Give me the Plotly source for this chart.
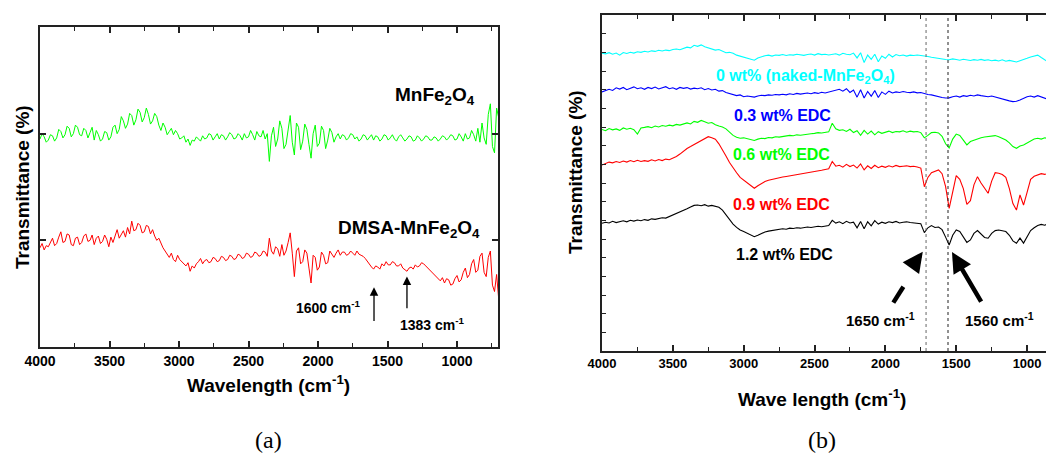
import plotly.graph_objects as go

W, H = 1054, 462          # target picture size (screen pixels)
OFF = 8                   # page body margin that offsets the plot div
FW, FH = W - OFF, H - OFF # figure size so the div exactly fills the window

# ---------------- data: panel (a) ----------------
X_A = list(range(4000, 699, -15))          # wavenumber grid, 4000 -> 700 cm-1
GREEN_A = [
    1.95, 2.00, 1.97, 1.92, 1.94, 1.99, 1.98, 1.93, 1.96, 2.04,
    2.02, 1.96, 1.99, 2.07, 2.05, 1.97, 2.00, 2.08, 2.06, 1.99,
    1.98, 2.05, 2.03, 1.96, 2.01, 2.06, 1.94, 2.03, 1.99, 1.93,
    1.95, 2.02, 2.01, 1.94, 1.97, 2.06, 2.08, 2.00, 2.04, 2.16,
    2.12, 2.05, 2.09, 2.19, 2.17, 2.08, 2.13, 2.23, 2.20, 2.11,
    2.15, 2.24, 2.18, 2.09, 2.12, 2.19, 2.16, 2.08, 2.03, 2.10,
    2.06, 1.99, 2.02, 2.05, 1.99, 2.03, 2.00, 1.95, 1.96, 1.98,
    1.92, 1.95, 1.89, 1.94, 1.93, 1.97, 1.95, 1.93, 1.98, 1.95,
    1.96, 2.00, 1.99, 1.94, 1.97, 2.00, 1.95, 1.99, 1.98, 1.94,
    1.97, 2.01, 1.99, 1.95, 1.96, 2.00, 1.98, 1.94, 2.00, 1.96,
    1.97, 2.03, 1.99, 1.94, 2.02, 1.98, 1.97, 2.03, 1.95, 2.00,
    1.74, 1.98, 2.06, 1.88, 1.95, 2.12, 2.05, 1.86, 1.90, 2.02,
    2.17, 1.92, 1.80, 2.10, 2.06, 1.85, 1.93, 2.09, 2.04, 1.90,
    1.77, 2.00, 2.08, 1.88, 1.91, 2.07, 2.03, 1.86, 1.94, 2.05,
    2.01, 1.92, 1.97, 2.00, 1.95, 1.99, 1.98, 1.94, 1.96, 2.00,
    1.99, 1.95, 1.97, 1.93, 1.95, 1.99, 1.98, 1.94, 1.96, 1.99,
    1.94, 1.98, 1.97, 1.93, 1.95, 1.99, 1.98, 1.94, 1.96, 1.99,
    1.95, 1.93, 1.97, 1.99, 1.96, 1.93, 1.95, 1.98, 1.97, 1.93,
    1.94, 1.98, 1.96, 1.93, 1.95, 1.98, 1.97, 1.94, 1.94, 1.97,
    1.96, 1.93, 1.95, 1.98, 1.97, 1.94, 1.96, 1.99, 1.98, 1.94,
    1.95, 2.00, 1.97, 1.93, 2.00, 1.95, 1.96, 2.03, 1.99, 1.93,
    2.05, 1.92, 2.10, 1.96, 1.90, 2.18, 2.28, 1.88, 1.82, 2.24,
    2.15,
]
RED_A = [
    0.93, 0.97, 0.91, 0.95, 0.94, 0.98, 1.02, 0.95, 0.97, 1.03,
    1.08, 0.98, 0.99, 1.06, 1.05, 0.96, 0.95, 1.02, 1.03, 0.96,
    0.98, 1.04, 1.06, 0.99, 1.00, 1.05, 0.96, 1.02, 1.04, 0.97,
    0.99, 1.05, 1.01, 0.94, 1.03, 0.98, 1.05, 1.10, 1.02, 1.06,
    1.09, 1.03, 1.12, 1.06, 1.18, 1.09, 1.10, 1.16, 1.14, 1.07,
    1.08, 1.14, 1.13, 1.06, 1.10, 1.04, 1.00, 1.02, 0.97, 0.93,
    0.90, 0.87, 0.84, 0.88, 0.82, 0.80, 0.86, 0.82, 0.80, 0.78,
    0.76, 0.79, 0.71, 0.76, 0.74, 0.78, 0.80, 0.83, 0.78, 0.81,
    0.82, 0.79, 0.80, 0.84, 0.83, 0.80, 0.81, 0.85, 0.84, 0.81,
    0.82, 0.86, 0.85, 0.82, 0.83, 0.87, 0.86, 0.83, 0.84, 0.88,
    0.87, 0.84, 0.85, 0.89, 0.88, 0.85, 0.86, 0.90, 0.89, 0.85,
    1.02, 0.90, 0.87, 0.94, 0.92, 0.85, 0.96, 0.86, 0.90, 0.98,
    1.07, 0.88, 0.66, 0.90, 0.93, 0.78, 0.80, 0.91, 0.88, 0.74,
    0.60, 0.86, 0.84, 0.72, 0.75, 0.89, 0.86, 0.78, 0.79, 0.90,
    0.87, 0.84, 0.88, 0.91, 0.86, 0.89, 0.89, 0.86, 0.87, 0.90,
    0.88, 0.86, 0.90, 0.87, 0.86, 0.85, 0.83, 0.80, 0.78, 0.75,
    0.73, 0.76, 0.75, 0.73, 0.78, 0.76, 0.80, 0.77, 0.77, 0.80,
    0.79, 0.76, 0.76, 0.78, 0.74, 0.72, 0.71, 0.74, 0.75, 0.73,
    0.77, 0.75, 0.76, 0.79, 0.78, 0.76, 0.74, 0.72, 0.70, 0.68,
    0.66, 0.64, 0.62, 0.65, 0.60, 0.64, 0.63, 0.58, 0.59, 0.64,
    0.67, 0.61, 0.63, 0.70, 0.74, 0.65, 0.68, 0.78, 0.82, 0.70,
    0.72, 0.85, 0.88, 0.70, 0.66, 0.84, 0.90, 0.58, 0.52, 0.68,
    0.45,
]

# ---------------- data: panel (b) ----------------
X_B = list(range(4000, 799, -25))          # wavenumber grid, 4000 -> 800 cm-1
CYAN_B = [
    15.95, 15.92, 15.98, 15.90, 15.96, 15.85, 15.99, 15.94, 16.00, 15.96, 16.03,
    16.00, 16.06, 16.02, 16.08, 16.05, 16.11, 16.07, 16.12, 16.09, 16.15,
    16.18, 16.14, 16.22, 16.28, 16.24, 16.38, 16.32, 16.40, 16.30, 16.25,
    16.20, 16.12, 16.15, 16.05, 15.98, 16.00,
    15.95, 15.85, 15.80, 15.72, 15.68, 15.62, 15.58,
    15.70, 15.78, 15.82, 15.85, 15.80, 15.86, 15.84,
    15.88, 15.83, 15.87, 15.85, 15.90, 15.86, 15.84, 15.88, 15.91, 15.85, 15.93, 15.88, 15.90, 15.86,
    15.88, 15.92, 15.85, 15.95, 15.90, 15.87, 15.96, 15.70, 15.98, 15.45, 15.85, 15.62, 15.90, 15.50, 15.80, 15.68,
    15.90, 15.75, 15.88, 15.82, 15.86, 15.80, 15.85, 15.83, 15.86, 15.84,
    15.80, 15.78, 15.74, 15.70, 15.68, 15.66, 15.62,
    15.60, 15.65, 15.62, 15.58, 15.63, 15.60, 15.56, 15.61, 15.58, 15.62, 15.57, 15.60, 15.55,
    15.58, 15.54, 15.60, 15.52, 15.57, 15.53, 15.48, 15.55, 15.60, 15.68, 15.75, 15.80,
    15.85, 15.72, 15.60, 15.45, 15.35, 15.30,
]
BLUE_B = [
    13.88, 13.95, 14.02, 13.96, 14.10, 14.03, 14.12, 14.00, 14.08, 14.15, 14.05,
    14.10, 14.02, 14.12, 14.06, 14.14, 14.04, 14.09, 14.16, 14.05, 14.10, 14.02, 14.12, 14.07, 14.11, 14.03, 14.08,
    14.05, 14.10, 14.00, 14.06, 13.98, 14.02, 13.92, 13.95, 13.85, 13.80,
    13.75, 13.68, 13.72, 13.62, 13.66, 13.64, 13.60, 13.66, 13.70, 13.68, 13.72, 13.70, 13.74, 13.72,
    13.75, 13.72, 13.78, 13.74, 13.80, 13.76, 13.79, 13.82, 13.78, 13.84, 13.80, 13.86, 13.82, 13.88,
    13.90, 13.96, 14.02, 13.92, 14.05, 13.85, 13.98, 13.60, 14.00, 13.55, 13.90, 13.65, 13.95, 13.58, 13.88, 13.75,
    13.92, 13.82, 13.88, 13.85, 13.90, 13.86, 13.84, 13.88, 13.83, 13.85,
    13.78, 13.74, 13.72, 13.66, 13.62, 13.58, 13.55,
    13.56, 13.62, 13.66, 13.60, 13.68, 13.64, 13.70, 13.66, 13.72, 13.68, 13.65, 13.62, 13.66,
    13.60, 13.56, 13.50, 13.45, 13.40, 13.36, 13.38, 13.45, 13.55, 13.62, 13.66, 13.60,
    13.68, 13.62, 13.55, 13.48, 13.38, 13.34,
]
GREEN_B = [
    11.87, 11.80, 11.92, 11.85, 11.90, 11.82, 11.95, 11.88, 11.93, 11.86, 11.62,
    11.95, 11.98, 12.02, 11.96, 12.05, 12.00, 12.08, 12.04, 12.10, 12.06, 12.14, 12.10, 12.18, 12.22, 12.16, 12.30,
    12.25, 12.35, 12.28, 12.20, 12.24, 12.12, 12.05, 12.00, 11.90, 11.70,
    11.55, 11.45, 11.40, 11.42, 11.36, 11.32, 11.28, 11.35, 11.40, 11.38, 11.44, 11.42, 11.48, 11.46,
    11.50, 11.52, 11.55, 11.53, 11.58, 11.56, 11.60, 11.62, 11.64, 11.66, 11.70, 11.68, 11.72, 11.74,
    12.20, 11.90, 11.82, 11.85, 11.76, 11.88, 11.70, 11.80, 11.55, 11.82, 11.62, 11.78, 11.58, 11.75, 11.66, 11.72,
    11.78, 11.70, 11.76, 11.74, 11.80, 11.72, 11.78, 11.74, 11.76, 11.70,
    11.42, 11.55, 11.70, 11.72, 11.68, 11.50, 11.10,
    10.88, 11.35, 11.62, 11.55, 11.30, 11.04, 11.22, 11.30, 11.36, 11.42, 11.46, 11.50, 11.52,
    11.54, 11.48, 11.40, 11.30, 11.15, 10.95, 10.86, 10.98, 11.04, 11.15, 11.28, 11.36,
    11.40, 11.35, 11.42, 11.38, 11.40, 11.36,
]
RED_B = [
    9.96, 10.05, 10.12, 10.08, 10.15, 10.10, 10.18, 10.12, 10.20, 10.14, 10.22,
    10.15, 10.20, 10.16, 10.24, 10.18, 10.26, 10.20, 10.28, 10.25, 10.32, 10.42, 10.55, 10.72, 10.85, 10.95, 11.05,
    11.15, 11.28, 11.38, 11.48, 11.42, 11.35, 11.10, 10.80, 10.45, 10.10,
    9.80, 9.55, 9.30, 9.15, 9.00, 8.85, 8.72, 8.85, 8.98, 9.08, 9.15, 9.20, 9.25, 9.28,
    9.32, 9.35, 9.38, 9.40, 9.44, 9.46, 9.50, 9.52, 9.56, 9.60, 9.64, 9.68, 9.72, 9.76,
    10.15, 9.90, 9.95, 9.85, 10.00, 9.88, 9.96, 9.80, 10.02, 9.70, 9.92, 9.78, 9.95, 9.82, 9.90, 9.84,
    9.92, 9.86, 9.94, 9.88, 9.90, 9.92, 9.88, 9.90, 9.86, 9.80,
    8.80, 9.30, 9.55, 9.62, 9.70, 9.50, 8.80,
    7.64, 8.60, 9.40, 9.20, 8.70, 7.85, 8.05, 8.90, 9.34, 9.00, 8.70, 8.45, 9.10,
    9.55, 9.52, 9.45, 9.30, 8.70, 7.90, 7.55, 8.36, 7.82, 8.50, 9.20, 9.36,
    9.42, 9.50, 9.46, 9.52, 9.48, 9.50,
]
BLACK_B = [
    6.84, 6.90, 6.86, 6.95, 6.88, 6.93, 6.98, 6.92, 7.00, 6.96, 7.02,
    6.98, 7.04, 7.00, 7.08, 7.05, 7.10, 7.14, 7.12, 7.20, 7.28, 7.35, 7.42, 7.50, 7.62, 7.72, 7.80,
    7.82, 7.78, 7.84, 7.76, 7.80, 7.74, 7.70, 7.55, 7.30, 7.05,
    6.80, 6.62, 6.48, 6.40, 6.30, 6.20, 6.12, 6.20, 6.30, 6.38, 6.42, 6.45, 6.48, 6.50,
    6.55, 6.52, 6.58, 6.56, 6.60, 6.58, 6.62, 6.64, 6.62, 6.66, 6.68, 6.66, 6.70, 6.72,
    7.00, 6.85, 6.92, 6.82, 6.95, 6.86, 6.90, 6.60, 6.94, 6.55, 6.92, 6.70, 6.98, 6.80, 6.90, 6.84,
    6.92, 6.88, 6.94, 6.86, 6.90, 6.92, 6.88, 6.86, 6.84, 6.82,
    6.34, 6.60, 6.72, 6.62, 6.64, 6.50, 6.10,
    5.68, 6.20, 6.48, 6.40, 6.10, 5.82, 5.95, 6.30, 6.45, 6.25, 6.08, 6.04, 6.30,
    6.45, 6.48, 6.44, 6.40, 6.20, 5.90, 5.77, 6.05, 5.78, 6.10, 6.45, 6.60,
    6.72, 6.78, 6.74, 6.82, 6.80, 6.84,
]

X_TICKS = [4000, 3500, 3000, 2500, 2000, 1500, 1000]
X_MINOR = [3750, 3250, 2750, 2250, 1750, 1250, 750]
PEAK_LINES_B = [1713, 1558]

SANS = "Liberation Sans, Arial, sans-serif"
SERIF = "Liberation Serif, Times New Roman, serif"
AXC = "#222222"


def px_x(px):
    return (px - OFF) / FW


def px_y(py):
    return 1 - (py - OFF) / FH


fig = go.Figure()


def line(x, y, color, xa, ya, width=1.0):
    fig.add_trace(go.Scatter(x=x, y=y, mode="lines", xaxis=xa, yaxis=ya,
                             line=dict(color=color, width=width),
                             hoverinfo="skip", showlegend=False))


line(X_A, GREEN_A, "#00ff00", "x", "y")
line(X_A, RED_A, "#ff0000", "x", "y")
line(X_B, CYAN_B, "#00ffff", "x2", "y2", 1.1)
line(X_B, BLUE_B, "#0000ff", "x2", "y2", 1.1)
line(X_B, GREEN_B, "#00ff00", "x2", "y2", 1.1)
line(X_B, RED_B, "#ff0000", "x2", "y2", 1.1)
line(X_B, BLACK_B, "#000000", "x2", "y2", 1.1)


def xax(domain, rng, anchor, fsize):
    return dict(domain=domain, range=rng, anchor=anchor, automargin=False,
                tickmode="array", tickvals=X_TICKS, ticktext=[str(v) for v in X_TICKS],
                ticks="inside", ticklen=6, tickwidth=1.5, tickcolor=AXC,
                showline=True, linecolor=AXC, linewidth=1.5, mirror="allticks",
                showgrid=False, zeroline=False,
                tickfont=dict(family=SANS, size=fsize, color="black", weight="bold"),
                minor=dict(ticks="inside", tickvals=X_MINOR,
                           ticklen=4, tickwidth=1.3, tickcolor=AXC, showgrid=False))


fig.update_layout(
    template="none",
    width=FW, height=FH, margin=dict(l=0, r=0, t=0, b=0, pad=0, autoexpand=False),
    paper_bgcolor="white", plot_bgcolor="white", showlegend=False,
    xaxis=xax([px_x(40), px_x(498)], [4000, 705], "y", 14),
    yaxis=dict(domain=[px_y(347), px_y(27)], range=[0, 3], anchor="x", automargin=False,
               tickvals=[1, 2], ticks="inside", ticklen=6, tickwidth=1.5, tickcolor=AXC,
               showticklabels=False, showline=True, linecolor=AXC, linewidth=1.5,
               mirror="allticks", showgrid=False, zeroline=False),
    xaxis2=xax([px_x(602), 1.0], [4000, 810], "y2", 13),
    yaxis2=dict(domain=[px_y(351), px_y(15)], range=[0, 18], anchor="x2", automargin=False,
                tickmode="linear", tick0=0, dtick=1, ticks="inside", ticklen=4,
                tickwidth=1.3, tickcolor=AXC, showticklabels=False, showline=True,
                linecolor=AXC, linewidth=1.5, mirror=False, showgrid=False, zeroline=False),
)

anns = []


def text(t, px, py, size, color="black", xanchor="center", angle=0, family=SANS):
    anns.append(dict(text=t, x=px_x(px), y=px_y(py), xref="paper", yref="paper",
                     showarrow=False, xanchor=xanchor, yanchor="middle", textangle=angle,
                     font=dict(family=family, size=size, color=color)))


# axis titles and panel letters
text("<b>Transmittance (%)</b>", 22, 187, 19, angle=-90)
text("<b>Transmittance (%)</b>", 576, 172, 19, angle=-90)
text("<b>Wavelength (cm<sup>-1</sup>)</b>", 268, 384, 19)
text("<b>Wave length (cm<sup>-1</sup>)</b>", 822, 398, 19)
text("(a)", 268, 440, 24, family=SERIF)
text("(b)", 822, 440, 24, family=SERIF)

# panel (a) labels
text("<b>MnFe<sub>2</sub>O<sub>4</sub></b>", 477, 96, 19, xanchor="right")
text("<b>DMSA-MnFe<sub>2</sub>O<sub>4</sub></b>", 482, 229, 19, xanchor="right")
text("<b>1600 cm<sup>-1</sup></b>", 328, 307, 14)
text("<b>1383 cm<sup>-1</sup></b>", 432, 324, 14)

# panel (b) labels
text("<b>0 wt% (naked-MnFe<sub>2</sub>O<sub>4</sub>)</b>", 805, 77, 16, color="#00ffff")
text("<b>0.3 wt% EDC</b>", 782, 116, 16, color="#0000ff")
text("<b>0.6 wt% EDC</b>", 781, 155, 16, color="#00ff00")
text("<b>0.9 wt% EDC</b>", 781, 204, 16, color="#ff0000")
text("<b>1.2 wt% EDC</b>", 784, 254, 16, color="#000000")
text("<b>1650 cm<sup>-1</sup></b>", 880, 319, 15)
text("<b>1560 cm<sup>-1</sup></b>", 999, 319, 15)


def arrow(x, y, ax, ay, xr, yr, width, size):
    anns.append(dict(text="", x=x, y=y, ax=ax, ay=ay, xref=xr, yref=yr, axref=xr, ayref=yr,
                     showarrow=True, arrowhead=2, arrowsize=size, arrowwidth=width,
                     arrowcolor="black", standoff=0, startstandoff=0))


# panel (a) arrows
arrow(1597, 0.56, 1597, 0.23, "x", "y", 1.3, 1.3)
arrow(1360, 0.66, 1360, 0.35, "x", "y", 1.3, 1.3)
# panel (b) arrows
arrow(1530, 5.30, 1318, 2.57, "x2", "y2", 4.5, 0.9)
arrow(1736, 5.32, 1819, 4.45, "x2", "y2", 4.5, 0.9)

fig.update_layout(annotations=anns)

shapes = [dict(type="line", xref="x2", yref="y2", x0=1944, y0=2.59, x1=1873, y1=3.44,
               line=dict(color="black", width=4.5))]
for xv, col in zip(PEAK_LINES_B, ["#666666", "#222222"]):
    shapes.append(dict(type="line", xref="x2", yref="y2 domain", x0=xv, x1=xv, y0=0, y1=1,
                       line=dict(color=col, width=1, dash="dot")))
fig.update_layout(shapes=shapes)

fig.write_html("out.html")
